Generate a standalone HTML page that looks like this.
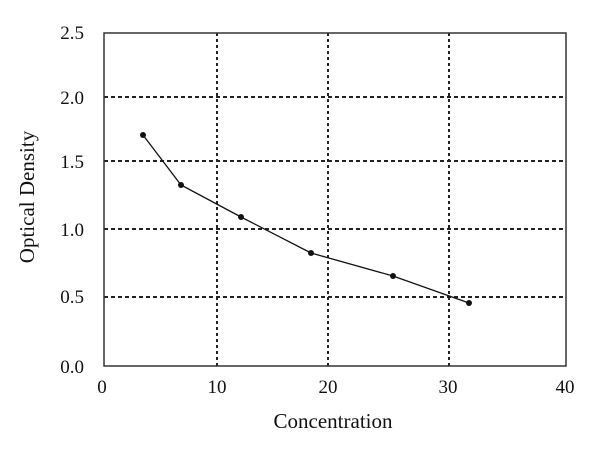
<!DOCTYPE html>
<html><head><style>body{margin:0;background:#fff}</style></head><body>
<svg width="600" height="445" xmlns="http://www.w3.org/2000/svg" font-family="Liberation Serif, serif" font-size="19" fill="#111">
<rect x="0" y="0" width="600" height="445" fill="#fff"/>
<g stroke="#222" stroke-width="2" stroke-dasharray="4,3">
<line x1="104" y1="97" x2="566" y2="97"/>
<line x1="104" y1="161" x2="566" y2="161"/>
<line x1="104" y1="229" x2="566" y2="229"/>
<line x1="104" y1="297" x2="566" y2="297"/>
</g>
<g stroke="#222" stroke-width="2" stroke-dasharray="3,3">
<line x1="217" y1="33" x2="217" y2="366"/>
<line x1="328" y1="33" x2="328" y2="366"/>
<line x1="449" y1="33" x2="449" y2="366"/>
</g>
<rect x="104" y="33" width="462" height="333" fill="none" stroke="#333" stroke-width="1.5"/>
<polyline points="143,135 181,185 241,217 311,253 393,276 469,303" fill="none" stroke="#111" stroke-width="1.3"/>
<g fill="#111">
<circle cx="143" cy="135" r="3"/><circle cx="181" cy="185" r="3"/><circle cx="241" cy="217" r="3"/>
<circle cx="311" cy="253" r="3"/><circle cx="393" cy="276" r="3"/><circle cx="469" cy="303" r="3"/>
</g>
<g text-anchor="end">
<text x="84" y="39">2.5</text><text x="84" y="104">2.0</text><text x="84" y="168">1.5</text>
<text x="84" y="236">1.0</text><text x="84" y="303">0.5</text><text x="84" y="373">0.0</text>
</g>
<g text-anchor="middle">
<text x="102" y="393">0</text><text x="217" y="393">10</text><text x="328" y="393">20</text>
<text x="448" y="393">30</text><text x="565" y="393">40</text>
<text x="333" y="428" font-size="21">Concentration</text>
<text transform="translate(34,197) rotate(-90)" font-size="21">Optical Density</text>
</g>
</svg>
</body></html>
